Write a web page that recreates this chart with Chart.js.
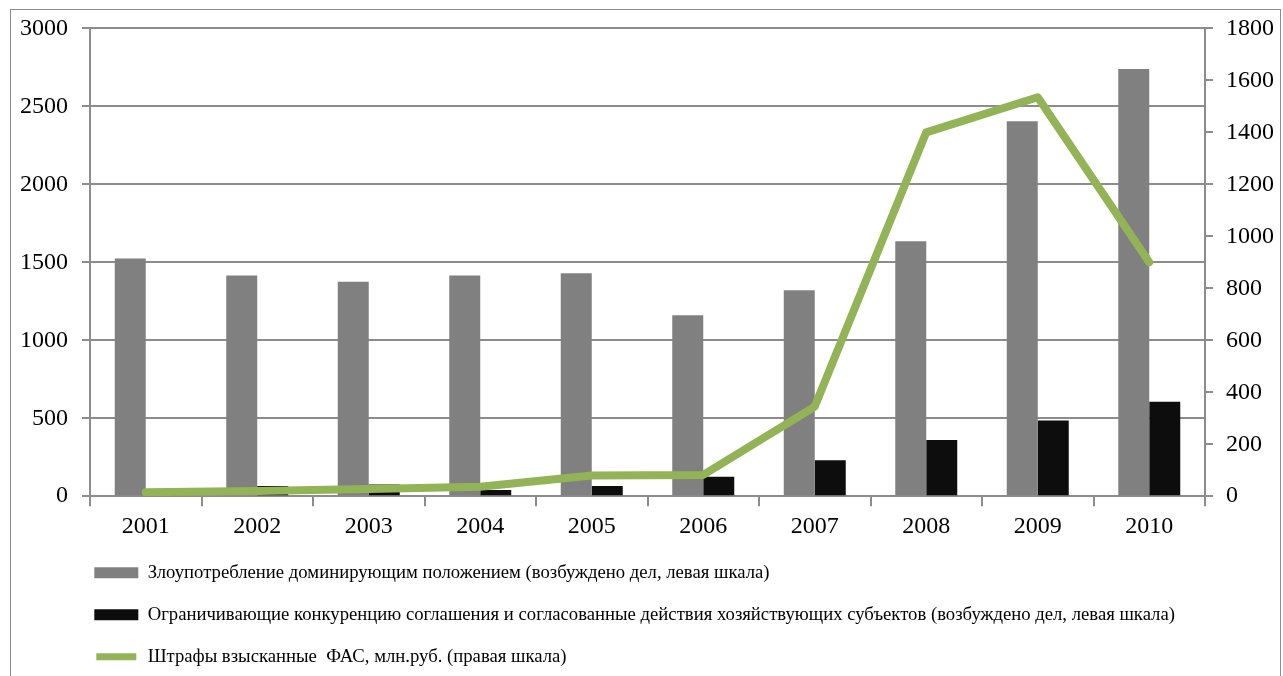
<!DOCTYPE html>
<html>
<head>
<meta charset="utf-8">
<script src="https://cdn.jsdelivr.net/npm/chart.js@4.4.1/dist/chart.umd.min.js"></script>
<style>
	html, body { margin: 0; padding: 0; background: #fff; overflow: hidden; }
	#frame { position: absolute; left: 10px; top: 9px; width: 1269px; height: 700px; border: 1px solid #8c8c8c; }
	#wrap { position: absolute; left: 0; top: 0; width: 1283px; height: 676px; }
</style>
</head>
<body>
<div id="frame"></div>
<div id="wrap"><canvas id="faschart"></canvas></div>
<script>
	var years = ['2001', '2002', '2003', '2004', '2005', '2006', '2007', '2008', '2009', '2010'];
	// возбуждено дел (левая шкала)
	var abuseCases = [1525, 1415, 1375, 1415, 1430, 1160, 1320, 1635, 2405, 2740];
	var cartelCases = [15, 65, 75, 40, 65, 125, 230, 360, 485, 605];
	// млн.руб. (правая шкала)
	var fines = [15, 20, 28, 36, 80, 82, 345, 1400, 1535, 900];

	var leftTicks = [0, 500, 1000, 1500, 2000, 2500, 3000];
	var rightTicks = [0, 200, 400, 600, 800, 1000, 1200, 1400, 1600, 1800];

	var labelNames = [
		'Злоупотребление доминирующим положением (возбуждено дел, левая шкала)',
		'Ограничивающие конкуренцию соглашения и согласованные действия хозяйствующих субъектов (возбуждено дел, левая шкала)',
		'Штрафы взысканные  ФАС, млн.руб. (правая шкала)'
	];

	var axisGray = '#8c8c8c';
	var serif = "'Liberation Serif', 'Times New Roman', serif";

	// legend sits a bit left of the plot area, as in the original
	var legendShift = {
		id: 'legendShift',
		afterLayout: function (c) {
			if (c.legend) {
				c.legend.left -= 19;
				c.legend.right -= 19;
			}
		}
	};

	var plainTicks = function (v) { return String(v); };

	var ctx = document.getElementById('faschart').getContext('2d');
	var chart = new Chart(ctx, {
		data: {
			labels: years,
			datasets: [
				{
					type: 'line',
					label: labelNames[2],
					data: fines,
					yAxisID: 'yRight',
					borderColor: '#92b356',
					backgroundColor: '#92b356',
					borderWidth: 8,
					borderCapStyle: 'round',
					borderJoinStyle: 'round',
					pointRadius: 0,
					tension: 0,
					order: 0
				},
				{
					type: 'bar',
					label: labelNames[0],
					data: abuseCases,
					yAxisID: 'yLeft',
					backgroundColor: '#808080',
					categoryPercentage: 0.556,
					barPercentage: 1,
					order: 1
				},
				{
					type: 'bar',
					label: labelNames[1],
					data: cartelCases,
					yAxisID: 'yLeft',
					backgroundColor: '#0d0d0d',
					categoryPercentage: 0.556,
					barPercentage: 1,
					order: 1
				}
			]
		},
		plugins: [legendShift],
		options: {
			responsive: true,
			maintainAspectRatio: false,
			animation: false,
			layout: { padding: { left: 12, right: 0, top: 10, bottom: 0 } },
			plugins: {
				tooltip: { enabled: false },
				legend: {
					position: 'bottom',
					align: 'start',
					fullSize: false,
					labels: {
						color: '#000',
						font: { family: serif, size: 18.7 },
						boxWidth: 44,
						boxHeight: 11,
						padding: 23.3,
						sort: function (a, b) {
							return labelNames.indexOf(a.text) - labelNames.indexOf(b.text);
						},
						generateLabels: function (c) {
							var items = Chart.defaults.plugins.legend.labels.generateLabels(c);
							items.forEach(function (it) {
								if (it.text === labelNames[2]) {
									it.fillStyle = '#92b356';
									it.strokeStyle = '#ffffff';
									it.lineWidth = 4;
								} else {
									it.lineWidth = 0;
								}
							});
							return items;
						}
					}
				}
			},
			scales: {
				x: {
					afterFit: function (scale) { scale.height -= 7; },
					grid: {
						offset: true,
						drawOnChartArea: false,
						drawTicks: true,
						tickLength: 10,
						color: axisGray,
						lineWidth: 2
					},
					border: { display: true, color: axisGray, width: 2 },
					ticks: { color: '#000', font: { family: serif, size: 24 }, padding: 6, maxRotation: 0 }
				},
				yLeft: {
					position: 'left',
					min: 0,
					max: 3000,
					afterBuildTicks: function (scale) {
						scale.ticks = leftTicks.map(function (v) { return { value: v }; });
					},
					afterFit: function (scale) { scale.width = 78; },
					grid: { color: axisGray, lineWidth: 2, tickLength: 8 },
					border: { display: true, color: axisGray, width: 2 },
					ticks: { color: '#000', font: { family: serif, size: 24 }, padding: 14, callback: plainTicks }
				},
				yRight: {
					position: 'right',
					min: 0,
					max: 1800,
					afterBuildTicks: function (scale) {
						scale.ticks = rightTicks.map(function (v) { return { value: v }; });
					},
					afterFit: function (scale) { scale.width = 78; },
					grid: { drawOnChartArea: false, color: axisGray, lineWidth: 2, tickLength: 8 },
					border: { display: true, color: axisGray, width: 2 },
					ticks: { color: '#000', font: { family: serif, size: 24 }, padding: 13, callback: plainTicks }
				}
			}
		}
	});
</script>
</body>
</html>
